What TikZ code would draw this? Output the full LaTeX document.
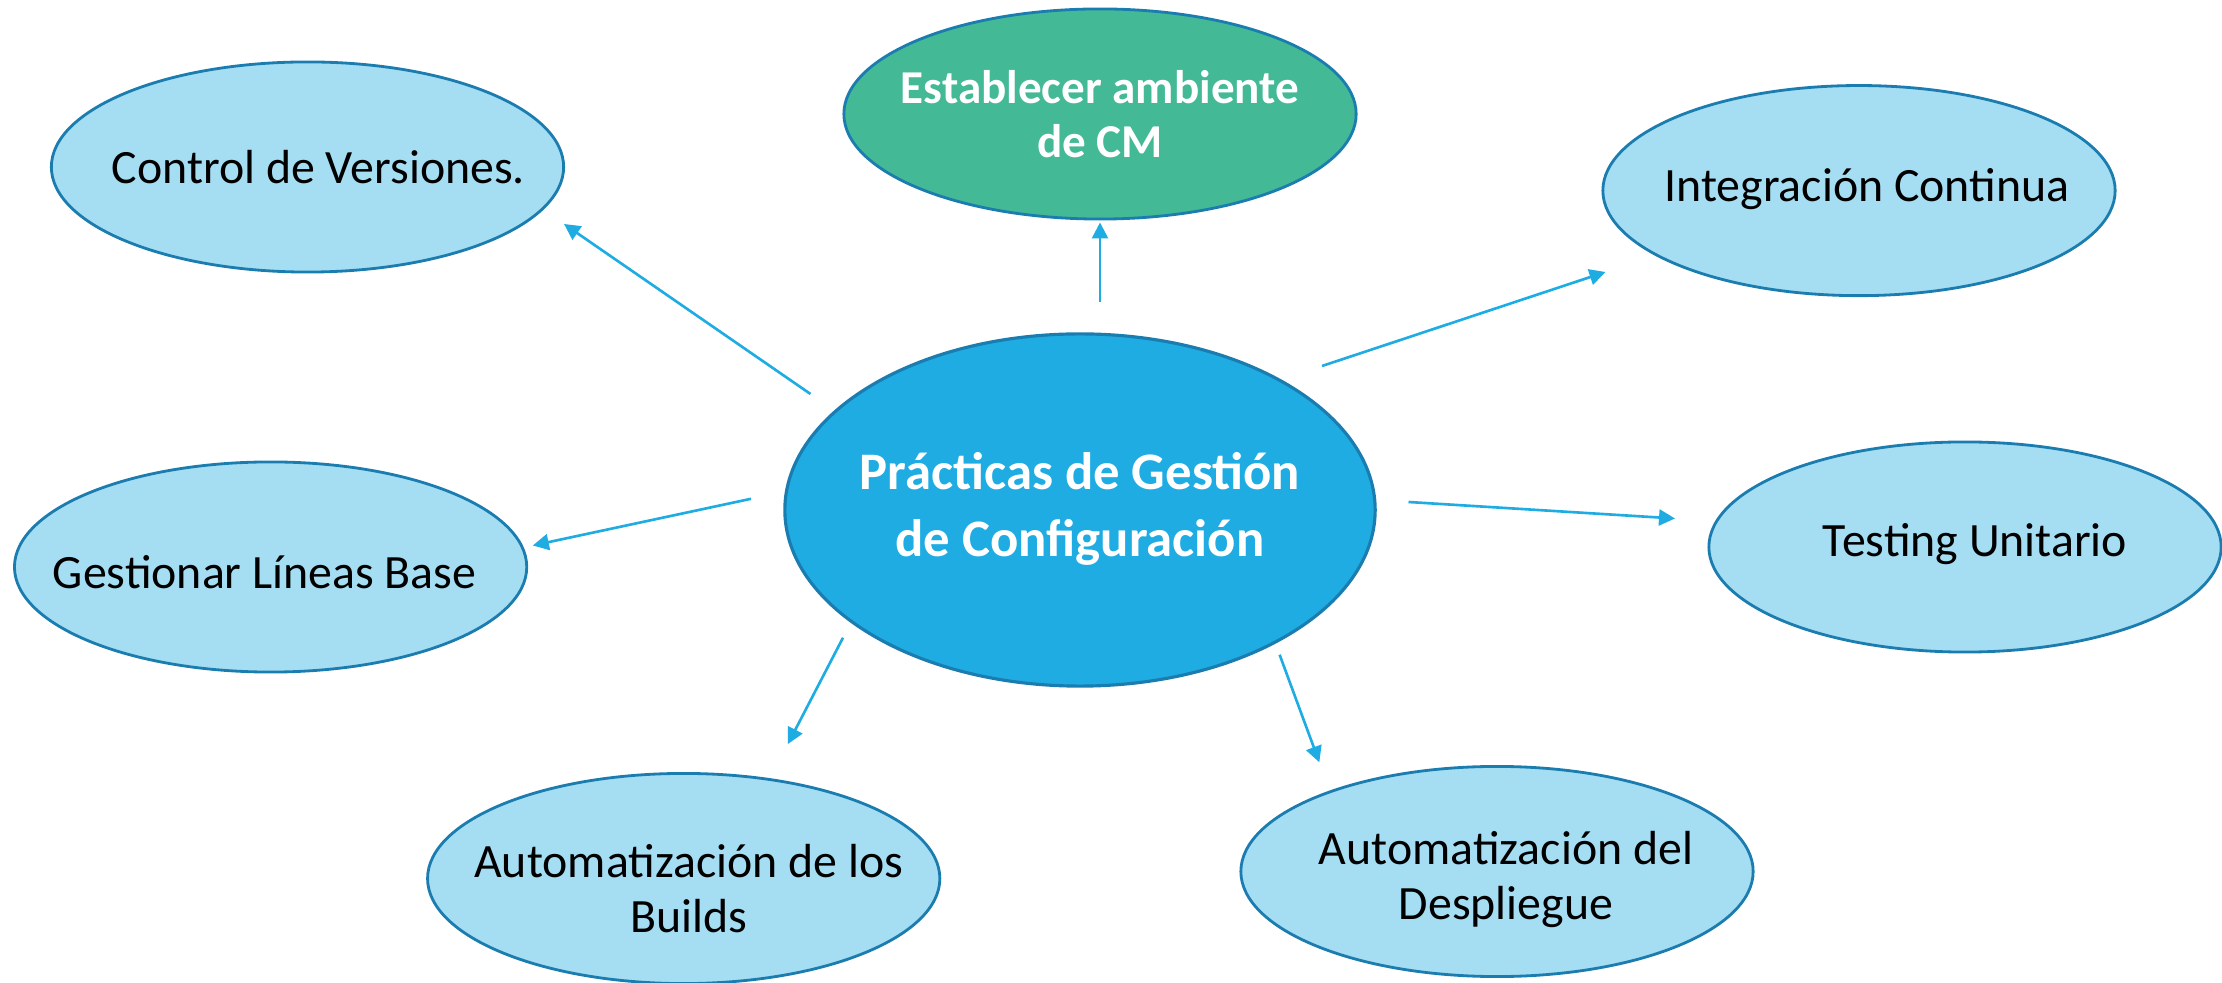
\documentclass[tikz,border=0pt]{standalone}
\usepackage{fontspec}
\setmainfont{Carlito}
\usetikzlibrary{shapes.geometric,arrows.meta}
\definecolor{lightfill}{HTML}{A5DDF3}
\definecolor{outline}{HTML}{1B7DAF}
\definecolor{mainfill}{HTML}{1FACE3}
\definecolor{greenfill}{HTML}{43B996}
\definecolor{arrowc}{HTML}{1EACE2}
\tikzset{
  leaftext/.style={align=center, inner sep=0pt, text=black,
    font=\fontsize{13.6}{15.7}\selectfont},
  hubtext/.style={align=center, inner sep=0pt, text=white,
    font=\fontsize{15}{18.9}\selectfont\bfseries},
  greentext/.style={align=center, inner sep=0pt, text=white,
    font=\fontsize{13.4}{15.2}\selectfont\bfseries},
  leaf/.style={ellipse, draw=outline, line width=0.8pt, fill=lightfill,
    minimum width=5.12cm, minimum height=2.1cm, inner sep=0pt},
  hub/.style={ellipse, draw=outline, line width=0.9pt, fill=mainfill,
    minimum width=5.9cm, minimum height=3.52cm, inner sep=0pt},
  greenleaf/.style={leaf, fill=greenfill},
  link/.style={draw=arrowc, line width=0.75pt, -{Triangle[length=0.16cm,width=0.16cm]}}
}
\begin{document}
\begin{tikzpicture}[x=0.01cm,y=-0.01cm]
\useasboundingbox (0,0) rectangle (2222,983);
\node[hub, label={[hubtext, yshift=0.01cm]center:Prácticas de Gestión\\de Configuración}] (hub) at (1080,510) {};
\node[leaf, label={[leaftext, xshift=0.11cm]center:Control de Versiones.}] (cv) at (307.5,167) {};
\node[greenleaf, label={[greentext]center:Establecer ambiente\\de CM}] (est) at (1100,114) {};
\node[leaf, label={[leaftext, xshift=0.08cm, yshift=0.02cm]center:Integración Continua}] (ic) at (1859,190.6) {};
\node[leaf, label={[leaftext, xshift=0.1cm, yshift=0.03cm]center:Testing Unitario}] (tu) at (1965,547) {};
\node[leaf, label={[leaftext, xshift=-0.06cm, yshift=-0.05cm]center:Gestionar Líneas Base}] (glb) at (270.6,567) {};
\node[leaf, label={[leaftext, xshift=0.05cm, yshift=-0.1cm]center:Automatización de los\\Builds}] (ab) at (683.7,878.5) {};
\node[leaf, label={[leaftext, xshift=0.09cm, yshift=-0.08cm]center:Automatización del\\Despliegue}] (ad) at (1497,871.5) {};
\coordinate (s1) at (810.5,394); \coordinate (e1) at (564,224);
\coordinate (s2) at (1100,302.5); \coordinate (e2) at (1100,222.5);
\coordinate (s3) at (1322,366); \coordinate (e3) at (1605.5,272);
\coordinate (s4) at (1408.5,502); \coordinate (e4) at (1675,518.5);
\coordinate (s5) at (751,498.8); \coordinate (e5) at (532.8,545.5);
\coordinate (s6) at (843,637.7); \coordinate (e6) at (787.9,744);
\coordinate (s7) at (1279.6,654.7); \coordinate (e7) at (1319.3,762.3);
\draw[link] (s1) -- (e1);
\draw[link] (s2) -- (e2);
\draw[link] (s3) -- (e3);
\draw[link] (s4) -- (e4);
\draw[link] (s5) -- (e5);
\draw[link] (s6) -- (e6);
\draw[link] (s7) -- (e7);
\end{tikzpicture}
\end{document}
